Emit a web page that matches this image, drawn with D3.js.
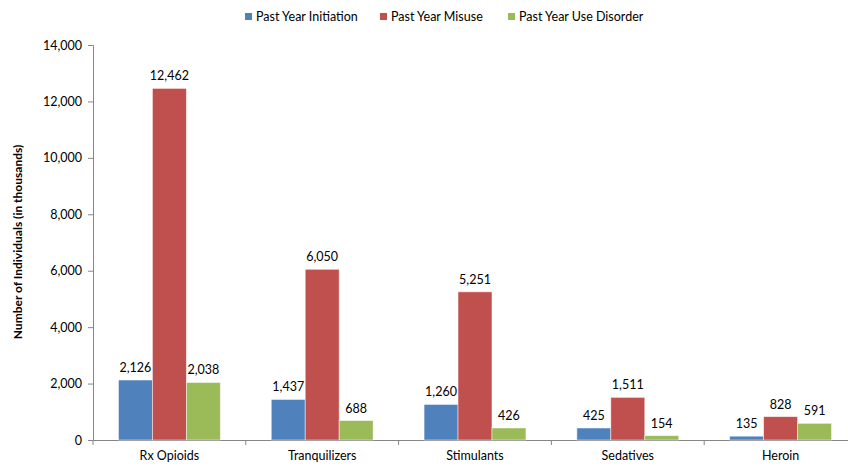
<!DOCTYPE html>
<html>
<head>
<meta charset="utf-8">
<script src="https://cdn.jsdelivr.net/npm/d3@7"></script>
<style>
  html, body { margin: 0; padding: 0; background: #fff; }
  svg { display: block; font-family: Lato, "Open Sans", sans-serif; }
</style>
</head>
<body>
<svg id="chart" width="848" height="466"></svg>
<script>
// Substances on the x axis
const categories = ["Rx Opioids", "Tranquilizers", "Stimulants", "Sedatives", "Heroin"];
// Series (in thousands)
const seriesNames = ["Past Year Initiation", "Past Year Misuse", "Past Year Use Disorder"];
const initiation = [2126, 1437, 1260, 425, 135];
const misuse = [12462, 6050, 5251, 1511, 828];
const useDisorder = [2038, 688, 426, 154, 591];
const yTicks = [0, 2000, 4000, 6000, 8000, 10000, 12000, 14000];
const colors = ["#4F81BD", "#C0504D", "#9BBB59"];

const seriesValues = [initiation, misuse, useDisorder];
const svg = d3.select("#chart");

const x = d3.scaleBand().domain(categories).range([93, 857]).paddingInner(0).paddingOuter(0);
const x1 = d3.scaleBand().domain(seriesNames).range([0, x.bandwidth()]).paddingOuter(0.75).paddingInner(0);
const y = d3.scaleLinear().domain([0, 14000]).range([440, 45]);
const fmt = d3.format(",");

// Y axis
const yAxis = svg.append("g").attr("transform", "translate(93,0)")
  .call(d3.axisLeft(y).tickValues(yTicks).tickFormat(fmt).tickSize(5).tickPadding(6));
yAxis.select(".domain").attr("stroke", "#868686");
yAxis.selectAll(".tick line").attr("stroke", "#868686");
yAxis.selectAll(".tick text").attr("font-size", 12.5).attr("fill", "#000").attr("font-family", "Lato, sans-serif");

// X axis
const xAxis = svg.append("g").attr("transform", "translate(0,440)")
  .call(d3.axisBottom(x).tickSize(0).tickPadding(11));
xAxis.select(".domain").attr("stroke", "#868686");
xAxis.selectAll(".tick text").attr("font-size", 12.5).attr("fill", "#000").attr("font-family", "Lato, sans-serif");
// Category separators
svg.append("g").selectAll("line")
  .data(categories.map(c => x(c)).concat([x(categories[categories.length - 1]) + x.bandwidth()]))
  .join("line")
  .attr("x1", d => d).attr("x2", d => d)
  .attr("y1", 440).attr("y2", 445)
  .attr("stroke", "#868686");

// Bars
const groups = svg.append("g").selectAll("g")
  .data(categories)
  .join("g")
  .attr("transform", d => `translate(${x(d)},0)`);

groups.selectAll("rect")
  .data((d, i) => seriesNames.map((s, k) => ({ s, k, v: seriesValues[k][i] })))
  .join("rect")
  .attr("x", d => x1(d.s))
  .attr("y", d => y(d.v))
  .attr("width", x1.bandwidth())
  .attr("height", d => y(0) - y(d.v))
  .attr("fill", d => colors[d.k])
  .attr("stroke", "#fff")
  .attr("stroke-opacity", 0.6)
  .attr("stroke-width", 0.8);

groups.selectAll("text.val")
  .data((d, i) => seriesNames.map((s, k) => ({ s, k, v: seriesValues[k][i] })))
  .join("text")
  .attr("class", "val")
  .attr("x", d => x1(d.s) + x1.bandwidth() / 2)
  .attr("y", d => y(d.v) - 8)
  .attr("text-anchor", "middle")
  .attr("font-size", 12.5)
  .attr("fill", "#000")
  .text(d => fmt(d.v));

// Axis title
svg.append("text")
  .attr("transform", "translate(22,242) rotate(-90)")
  .attr("text-anchor", "middle")
  .attr("font-size", 12)
  .attr("font-weight", "bold")
  .attr("fill", "#000")
  .text("Number of Individuals (in thousands)");

// Legend
const legendX = [245, 380, 508];
const legend = svg.append("g").selectAll("g")
  .data(seriesNames)
  .join("g")
  .attr("transform", (d, i) => `translate(${legendX[i]},13)`);
legend.append("rect").attr("width", 7).attr("height", 7).attr("fill", (d, i) => colors[i]);
legend.append("text").attr("x", 11).attr("y", 7.5)
  .attr("font-size", 12.5).attr("fill", "#000").text(d => d);
</script>
</body>
</html>
